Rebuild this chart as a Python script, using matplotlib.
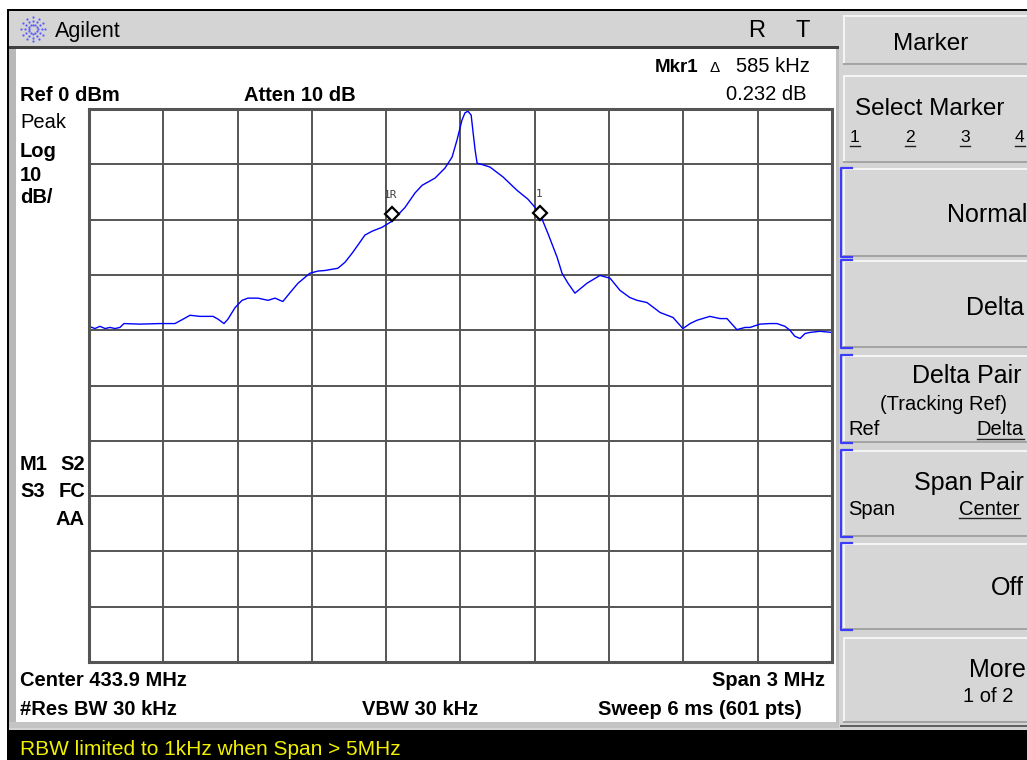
import numpy as np
import matplotlib
matplotlib.use('Agg')
from matplotlib import pyplot as plt
from matplotlib.patches import Rectangle

# sweep settings shown on the analyzer screen
center_mhz = 433.9
span_mhz = 3.0
ref_dbm = 0
db_per_div = 10

# trace (MHz, dBm)
freq_mhz = [432.400, 432.424, 432.444, 432.465, 432.485, 432.505, 432.525, 432.541, 432.606, 432.687,
            432.747, 432.780, 432.808, 432.848, 432.901, 432.921, 432.945, 432.961, 432.990, 433.018,
            433.042, 433.082, 433.123, 433.151, 433.171, 433.183, 433.212, 433.244, 433.292, 433.325,
            433.353, 433.405, 433.434, 433.462, 433.486, 433.514, 433.543, 433.583, 433.623, 433.676,
            433.716, 433.745, 433.797, 433.837, 433.866, 433.886, 433.906, 433.918, 433.930, 433.943,
            433.951, 433.959, 433.967, 433.991, 434.019, 434.072, 434.128, 434.172, 434.201, 434.221,
            434.253, 434.290, 434.310, 434.334, 434.362, 434.411, 434.463, 434.504, 434.544, 434.584,
            434.613, 434.653, 434.706, 434.758, 434.798, 434.827, 434.855, 434.907, 434.948, 434.976,
            435.016, 435.049, 435.069, 435.109, 435.149, 435.178, 435.210, 435.230, 435.250, 435.271,
            435.291, 435.311, 435.351, 435.400]
level_dbm = [-39.3, -39.7, -39.3, -39.7, -39.5, -39.7, -39.5, -38.8, -38.9, -38.8,
             -38.8, -38.0, -37.3, -37.5, -37.5, -38.0, -38.8, -38.0, -35.9, -34.6,
             -34.2, -34.2, -34.6, -34.2, -34.6, -34.8, -33.2, -31.5, -29.7, -29.3,
             -29.2, -28.8, -27.7, -26.1, -24.6, -22.8, -22.1, -21.4, -20.3, -17.8,
             -15.2, -13.8, -12.5, -10.7, -8.7, -5.6, -2.0, -0.7, -0.4, -1.1,
             -4.3, -7.4, -9.8, -10.1, -10.5, -12.3, -14.7, -16.3, -17.8, -19.0,
             -22.5, -26.8, -29.7, -31.5, -33.3, -31.5, -30.1, -30.6, -32.8, -34.1,
             -34.6, -35.0, -36.8, -37.7, -39.7, -38.8, -38.2, -37.5, -37.9, -37.9,
             -39.9, -39.5, -39.5, -38.9, -38.8, -38.8, -39.3, -40.0, -41.1, -41.5,
             -40.6, -40.4, -40.2, -40.4]

marker_freq = [433.623, 434.221]
marker_dbm = [-19.0, -18.8]
marker_names = ['1R', '1']

NARROW = ['Liberation Sans Narrow', 'Liberation Sans', 'DejaVu Sans']
SANS = ['Liberation Sans', 'DejaVu Sans']
KEY = 18      # softkey main labels
SUB = 14.5    # softkey sub labels
SCR = 14.5    # screen annotations

fig = plt.figure(figsize=(10.27, 7.6), dpi=100)
fig.patch.set_facecolor('white')

# background layer in pixel coordinates (y down)
bg = fig.add_axes([0, 0, 1, 1])
bg.set_xlim(0, 1027)
bg.set_ylim(760, 0)
bg.axis('off')


def box(x, y, w, h, color, z=0, **kw):
    bg.add_patch(Rectangle((x, y), w, h, facecolor=color, edgecolor='none', zorder=z, **kw))


def label(x, y, s, size=SCR, bold=True, ha='left', color='black', family=NARROW):
    bg.text(x, y, s, fontsize=size, fontweight='bold' if bold else 'normal', ha=ha,
            va='baseline', color=color, family=family, zorder=5)


# frame, title bar, screen
box(7, 9, 1020, 751, 'black')
box(9, 11, 1018, 719, '#d4d4d4')
box(9, 46, 830, 3, '#404040', z=1)
box(9, 49, 7, 675, '#b8b8b8', z=1)
box(16, 49, 822, 673, 'white', z=1)
box(9, 722, 830, 6, '#c4c4c4', z=1)
box(836, 49, 3, 676, '#c0c0c0', z=1)
box(7, 730, 1020, 30, 'black', z=1)

# agilent logo: dotted starburst
for ang in np.arange(0, 360, 30):
    for r in (4.5, 8.5, 12):
        bg.plot(33 + r * np.cos(np.radians(ang)), 29 + r * np.sin(np.radians(ang)), 'o',
                ms=1.6, color='#5a5aff', mec='none', zorder=3)
label(55, 37, 'Agilent', size=15.5, bold=False, family=SANS)
label(748, 37, 'R', size=17, bold=False, family=SANS)
label(795, 37, 'T', size=17, bold=False, family=SANS)

# softkey panel
buttons = [(15, 65), (75, 163), (168, 257), (260, 348), (355, 443), (450, 537), (543, 630), (637, 723)]
for top, bot in buttons:
    box(843, top, 184, bot - top, '#d6d6d6', z=2)
    box(843, top, 184, 2, '#f4f4f4', z=3)
    box(843, top, 2, bot - top, '#f4f4f4', z=3)
    box(843, bot - 2, 184, 2, '#a4a4a4', z=3)
box(840, 725, 187, 2, '#606060', z=2)
for top, bot in buttons[2:7]:
    bg.plot([852, 841, 841, 852], [top, top, bot, bot], color='#3c3cff', lw=1.6, zorder=4)

label(893, 50, 'Marker', size=KEY - 0.5, bold=False, family=SANS)
label(855, 115, 'Select Marker', size=KEY - 0.5, bold=False, family=SANS)
for xx, n in zip([850, 905, 960, 1015], ['1', '2', '3', '4']):
    label(xx, 142, n, size=12.5, bold=False, family=SANS)
    bg.plot([xx, xx + 10], [145.5, 145.5], color='#202020', lw=1, zorder=5)
label(1027, 222, 'Normal', size=KEY, bold=False, ha='right', family=SANS)
label(1024, 315, 'Delta', size=KEY, bold=False, ha='right', family=SANS)
label(1022, 383, 'Delta Pair', size=KEY, bold=False, ha='right', family=SANS)
label(1007, 410, '(Tracking Ref)', size=SUB, bold=False, ha='right', family=SANS)
label(848, 435, 'Ref', size=SUB, bold=False, family=SANS)
label(1024, 435, 'Delta', size=SUB, bold=False, ha='right', family=SANS)
bg.plot([977, 1024], [438.5, 438.5], color='#202020', lw=1, zorder=5)
label(1024, 490, 'Span Pair', size=KEY, bold=False, ha='right', family=SANS)
label(848, 515, 'Span', size=SUB, bold=False, family=SANS)
label(1020, 515, 'Center', size=SUB, bold=False, ha='right', family=SANS)
bg.plot([959, 1020], [518, 518], color='#202020', lw=1, zorder=5)
label(1024, 595, 'Off', size=KEY, bold=False, ha='right', family=SANS)
label(1026, 677, 'More', size=KEY, bold=False, ha='right', family=SANS)
label(1013, 702, '1 of 2', size=SUB, bold=False, ha='right', family=SANS)

# screen annotations
label(655, 72, 'Mkr1', size=13.5)
label(710, 72, '\u0394', size=11, bold=False, family=SANS)
label(810, 72, '585 kHz', size=14.5, bold=False, ha='right', family=SANS)
label(807, 100, '0.232 dB', size=14.5, bold=False, ha='right', family=SANS)
label(20, 101, 'Ref 0 dBm')
label(244, 101, 'Atten 10 dB')
label(20, 128, 'Peak', bold=False, family=SANS)
label(20, 157, 'Log')
label(20, 181, '10')
label(20, 203, 'dB/')
label(20, 470, 'M1')
label(85, 470, 'S2', ha='right')
label(20, 497, 'S3')
label(85, 497, 'FC', ha='right')
label(85, 525, 'AA', ha='right')
label(20, 686, 'Center 433.9 MHz')
label(825, 686, 'Span 3 MHz', ha='right')
label(20, 715, '#Res BW 30 kHz')
label(362, 715, 'VBW 30 kHz')
label(802, 715, 'Sweep 6 ms (601 pts)', ha='right')
label(20, 755, 'RBW limited to 1kHz when Span > 5MHz', size=15, bold=False, color='#f0f000')

# graticule with trace
ax = fig.add_axes([89 / 1027, 1 - 662 / 760, 743 / 1027, 553 / 760])
ax.set_zorder(6)
lo, hi = center_mhz - span_mhz / 2, center_mhz + span_mhz / 2
bottom = ref_dbm - 10 * db_per_div
ax.set_xlim(lo, hi)
ax.set_ylim(bottom, ref_dbm)
ax.set_xticks(np.linspace(lo, hi, 11))
ax.set_yticks(np.linspace(bottom, ref_dbm, 11))
ax.tick_params(length=0, labelbottom=False, labelleft=False)
ax.grid(True, color='#555555', lw=1.4)
ax.set_axisbelow(True)
for sp in ax.spines.values():
    sp.set_color('#555555')
    sp.set_linewidth(2.2)

ax.plot(freq_mhz, level_dbm, color='#0000ff', lw=1.0)
ax.plot(marker_freq, marker_dbm, ls='none', marker='D', ms=7.5, mfc='white', mec='black', mew=1.6)
for f, d, n in zip(marker_freq, marker_dbm, marker_names):
    ax.annotate(n, (f, d), xytext=(-1, 14), textcoords='offset points', ha='center', va='center',
                fontsize=8, family='DejaVu Sans Mono', color='#404040')

fig.savefig('out.png', dpi=100)
